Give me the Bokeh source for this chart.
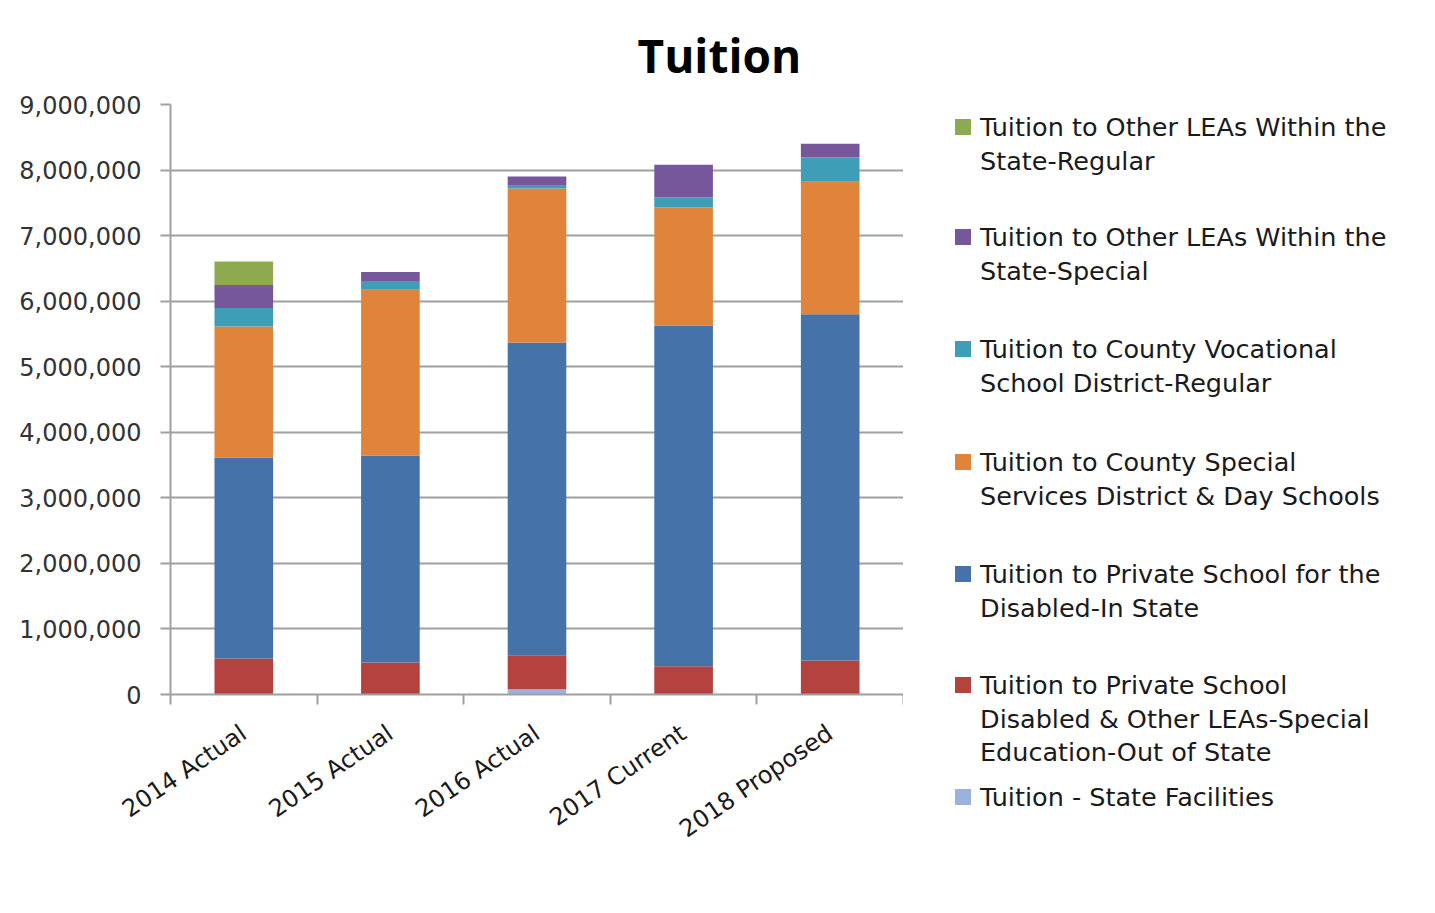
import html
import numpy as np
from bokeh.plotting import figure
from bokeh.layouts import row
from bokeh.models import (Range1d, FixedTicker, SingleIntervalTicker, Div,
                          ColumnDataSource, NumeralTickFormatter)
from bokeh.embed import file_html
from bokeh.resources import INLINE

categories = ["2014 Actual", "2015 Actual", "2016 Actual", "2017 Current", "2018 Proposed"]

state_facilities     = [0, 0, 80000, 0, 0]
private_out_of_state = [550000, 490000, 520000, 430000, 520000]
private_in_state     = [3065000, 3155000, 4770000, 5200000, 5280000]
county_special       = [2000000, 2530000, 2350000, 1800000, 2020000]
county_vocational    = [280000, 120000, 40000, 150000, 370000]
leas_special         = [350000, 150000, 140000, 500000, 210000]
leas_regular         = [360000, 0, 0, 0, 0]

series_keys = ["state_facilities", "private_out_of_state", "private_in_state",
               "county_special", "county_vocational", "leas_special", "leas_regular"]
series_labels = [
    ["Tuition - State Facilities"],
    ["Tuition to Private School", "Disabled & Other LEAs-Special", "Education-Out of State"],
    ["Tuition to Private School for the", "Disabled-In State"],
    ["Tuition to County Special", "Services District & Day Schools"],
    ["Tuition to County Vocational", "School District-Regular"],
    ["Tuition to Other LEAs Within the", "State-Special"],
    ["Tuition to Other LEAs Within the", "State-Regular"],
]
series_colors = ["#9AB2DC", "#B4433F", "#4472A9", "#E0843B", "#3E9EB8", "#77579C", "#8DAA4E"]

xpos = [i + 0.5 for i in range(len(categories))]
source = ColumnDataSource(dict(
    x=xpos,
    state_facilities=state_facilities,
    private_out_of_state=private_out_of_state,
    private_in_state=private_in_state,
    county_special=county_special,
    county_vocational=county_vocational,
    leas_special=leas_special,
    leas_regular=leas_regular,
))

H = 897
MAIN_W = 903
LEG_W = 1419 - MAIN_W
FRAME_TOP, FRAME_BOTTOM = 104, 694

p = figure(width=MAIN_W, height=H, output_backend="svg", toolbar_location=None,
           x_range=Range1d(0, len(categories)), y_range=Range1d(0, 9000000),
           min_border_left=170, min_border_right=0, min_border_top=FRAME_TOP,
           min_border_bottom=H - FRAME_BOTTOM, title="Tuition")
p.outline_line_color = None
p.background_fill_color = "white"
p.border_fill_color = "white"

p.title.text_font = "Open Sans"
p.title.text_font_size = "46px"
p.title.text_font_style = "bold"
p.title.text_color = "#000000"
p.title.align = "left"
p.title.offset = 467
p.title.standoff = 38

renderers = p.vbar_stack(series_keys, x="x", width=0.4, source=source,
                         color=series_colors, line_color=None)

grey = "#a0a0a0"
p.yaxis.ticker = SingleIntervalTicker(interval=1000000)
p.yaxis.formatter = NumeralTickFormatter(format="0,0")
p.yaxis.major_label_text_font = "DejaVu Sans"
p.yaxis.major_label_text_font_size = "24px"
p.yaxis.major_label_text_color = "#333333"
p.yaxis.major_tick_out = 10
p.yaxis.major_tick_in = 0
p.yaxis.major_label_standoff = 19
p.yaxis.minor_tick_line_color = None
p.yaxis.axis_line_color = grey
p.yaxis.axis_line_width = 2
p.yaxis.major_tick_line_color = grey
p.yaxis.major_tick_line_width = 2

p.xaxis.ticker = FixedTicker(ticks=xpos, minor_ticks=list(range(len(categories) + 1)))
p.xaxis.major_label_overrides = {x: c for x, c in zip(xpos, categories)}
p.xaxis.major_label_orientation = 0.60
p.xaxis.major_label_text_font = "DejaVu Sans"
p.xaxis.major_label_text_font_size = "24px"
p.xaxis.major_label_text_color = "#1a1a1a"
p.xaxis.major_label_standoff = 26
p.xaxis.major_tick_line_color = None
p.xaxis.minor_tick_out = 10
p.xaxis.minor_tick_in = 0
p.xaxis.minor_tick_line_color = grey
p.xaxis.minor_tick_line_width = 2
p.xaxis.axis_line_color = grey
p.xaxis.axis_line_width = 2

p.xgrid.grid_line_color = None
p.ygrid.grid_line_color = grey
p.ygrid.grid_line_width = 2

# Legend panel (HTML), entries in reverse stacking order as in the original
legend_order = list(range(len(series_keys)))[::-1]
first_line_centers = [122, 232, 344, 457, 569, 680, 792]
LINE_PITCH = 33.5
LH = 34
parts = [f'<div style="position:relative;width:{LEG_W}px;height:{H}px;background:white;">']
for cy, idx in zip(first_line_centers, legend_order):
    parts.append(
        f'<div style="position:absolute;left:47px;top:{cy - 8}px;width:16px;height:16px;'
        f'background:{series_colors[idx]};"></div>')
    for j, ln in enumerate(series_labels[idx]):
        top = cy + j * LINE_PITCH - LH / 2
        parts.append(
            f'<div style="position:absolute;left:72px;top:{top}px;height:{LH}px;'
            f'line-height:{LH}px;white-space:nowrap;font-family:\'DejaVu Sans\',sans-serif;'
            f'font-size:25.5px;color:#1a1a1a;">{html.escape(ln)}</div>')
parts.append('</div>')
legend_div = Div(text="".join(parts), width=LEG_W, height=H)

layout = row(p, legend_div)
open("out.html", "w").write(file_html(layout, INLINE))
